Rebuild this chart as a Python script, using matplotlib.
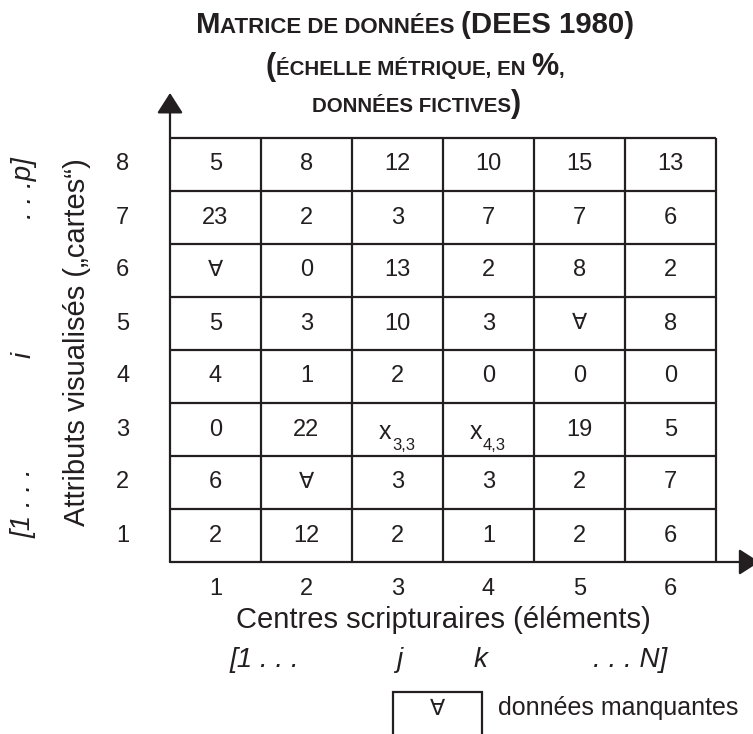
import numpy as np
import matplotlib.pyplot as plt
from matplotlib.patches import Rectangle

plt.rcParams['font.family'] = ['Liberation Sans', 'DejaVu Sans']
INK = '#231f20'

# données du tableau (lignes 1 -> 8, de bas en haut) ; None = donnée manquante
columns = ['1', '2', '3', '4', '5', '6']
rows = ['1', '2', '3', '4', '5', '6', '7', '8']
values = [
    ['2', '12', '2', '1', '2', '6'],
    ['6', None, '3', '3', '2', '7'],
    ['0', '22', 'x3,3', 'x4,3', '19', '5'],
    ['4', '1', '2', '0', '0', '0'],
    ['5', '3', '10', '3', None, '8'],
    [None, '0', '13', '2', '8', '2'],
    ['23', '2', '3', '7', '7', '6'],
    ['5', '8', '12', '10', '15', '13'],
]
missing_sign = '∀'
x_title = 'Centres scripturaires (éléments)'
y_title = 'Attributs visualisés („cartes“)'
legend_text = 'données manquantes'

W, H = 753, 734
fig = plt.figure(figsize=(W / 100, H / 100), dpi=100)
fig.patch.set_facecolor('white')


def px(x, y):
    # pixels (depuis le coin haut gauche) -> fraction de figure
    return x / W, 1 - y / H


# zone du tableau
ax = fig.add_axes([170 / W, 1 - 562 / H, 545.7 / W, 424 / H])
ax.set_xlim(0.5, len(columns) + 0.5)
ax.set_ylim(0.5, len(rows) + 0.5)
ax.axis('off')

lw = 1.6
nx, ny = len(columns), len(rows)
ax.vlines(np.arange(1.5, nx + 1), 0.5, ny + 0.5, color=INK, lw=lw, clip_on=False)
ax.hlines(np.arange(1.5, ny + 1), 0.5, nx + 0.5, color=INK, lw=lw, clip_on=False)

# axes avec flèches
arrow = dict(arrowstyle='-|>,head_length=1.25,head_width=0.8', mutation_scale=10,
             color=INK, lw=lw, shrinkA=0, shrinkB=0)
ax.annotate('', xy=(0.5, ny + 1.35), xytext=(0.5, 0.5), arrowprops=arrow,
            annotation_clip=False)
ax.annotate('', xy=(nx + 0.98, 0.5), xytext=(0.5, 0.5), arrowprops=arrow,
            annotation_clip=False)

# contenu des cellules
for i, row in enumerate(values):
    for j, v in enumerate(row):
        x, y = j + 1, i + 1
        if v is None:
            ax.text(x, y, missing_sign, ha='center', va='center', fontsize=16, color=INK)
        elif v.startswith('x'):
            ax.annotate('x', (x, y), xytext=(-9, -6.8), textcoords='offset points',
                        ha='center', va='baseline', fontsize=18, color=INK)
            ax.annotate(v[1:], (x, y), xytext=(-4, -14.8), textcoords='offset points',
                        ha='left', va='baseline', fontsize=12, color=INK)
        else:
            ax.text(x, y, v, ha='center', va='center', fontsize=17, color=INK)

# étiquettes des axes
for j, lab in enumerate(columns):
    ax.annotate(lab, (j + 1, 0.5), xytext=(0, -19.5), textcoords='offset points',
                ha='center', va='center', fontsize=17, color=INK)
for i, lab in enumerate(rows):
    ax.annotate(lab, (0.5, i + 1), xytext=(-34, 0), textcoords='offset points',
                ha='center', va='center', fontsize=17, color=INK)

fig.text(*px(443, 620), x_title, ha='center', va='center', fontsize=21, color=INK)
fig.text(*px(77, 342), y_title, ha='center', va='center', fontsize=21,
         rotation=90, color=INK)

# indices en italique
ital = dict(fontsize=20, style='italic', color=INK, va='center')
fig.text(*px(230, 660), '[1 . . .', ha='left', **ital)
fig.text(*px(399, 660), 'j', ha='center', **ital)
fig.text(*px(480, 660), 'k', ha='center', **ital)
fig.text(*px(667, 660), '. . . N]', ha='right', **ital)
fig.text(*px(24, 503), '[1 . . .', ha='center', rotation=90, **ital)
fig.text(*px(24, 355), 'i', ha='center', rotation=90, **ital)
fig.text(*px(24, 188), '. . .p]', ha='center', rotation=90, **ital)

# légende
fig.add_artist(Rectangle(px(393, 745), 89 / W, 53 / H, transform=fig.transFigure,
                         fill=False, lw=lw, edgecolor=INK))
fig.text(*px(437, 710), missing_sign, ha='center', va='center', fontsize=16, color=INK)
fig.text(*px(498, 715), legend_text, ha='left', va='baseline', fontsize=18, color=INK)

# titre en petites capitales
renderer = fig.canvas.get_renderer()


def rich_line(parts, xc, y_base):
    texts, widths = [], []
    for s, size in parts:
        core = s.rstrip(' ')
        t = fig.text(0, 1 - y_base / H, s, fontsize=size, fontweight='bold',
                     ha='left', va='baseline', color=INK)
        probe = fig.text(0, 0, core, fontsize=size, fontweight='bold')
        w = probe.get_window_extent(renderer).width
        probe.remove()
        w += (len(s) - len(core)) * 0.278 * size * 100 / 72
        texts.append(t)
        widths.append(w)
    x = xc - sum(widths) / 2
    for t, w in zip(texts, widths):
        t.set_x(x / W)
        x += w


rich_line([('M', 21.2), ('ATRICE DE DONNÉES ', 16), ('(DEES 1980)', 21.2)], 415, 33)
rich_line([('(', 22), ('ÉCHELLE MÉTRIQUE, EN ', 14.8), ('%', 22), (',', 14.8)], 415, 75)
rich_line([('DONNÉES FICTIVES', 14.8), (')', 22)], 417, 112)

fig.savefig('out.png', dpi=100, facecolor='white')
